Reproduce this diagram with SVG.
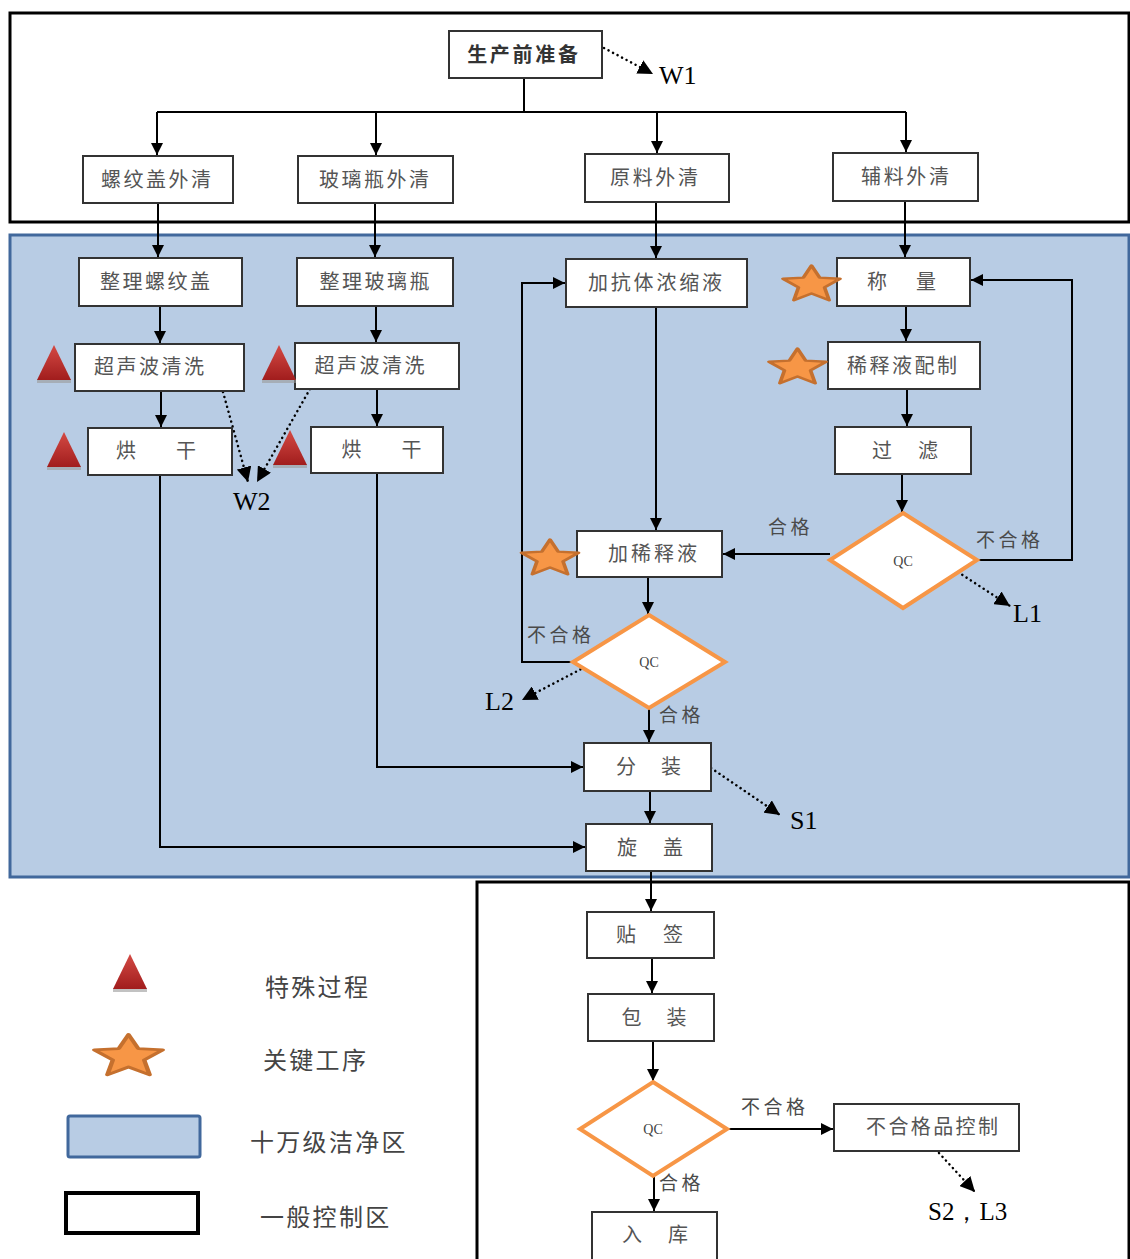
<svg xmlns="http://www.w3.org/2000/svg" width="1130" height="1259" viewBox="0 0 1130 1259">
<defs>
<style>
.box{fill:#fff;stroke:#333;stroke-width:2}
.t{font-family:"Noto Sans CJK SC","Liberation Serif",sans-serif;font-size:20px;fill:#555;text-anchor:middle}
.lb{font-family:"Noto Sans CJK SC","Liberation Serif",sans-serif;font-size:19px;fill:#4a4a4a;letter-spacing:3.5px}
.lg{font-family:"Noto Sans CJK SC","Liberation Serif",sans-serif;font-size:24px;fill:#444;letter-spacing:2.3px}
.ref{font-family:"Liberation Serif",serif;font-size:26px;fill:#000}
.qc{fill:#fff;stroke:#f79646;stroke-width:4;stroke-linejoin:miter}
.qct{font-family:"Liberation Serif",serif;font-size:14px;fill:#444;text-anchor:middle}
.ln{fill:none;stroke:#000;stroke-width:2}
.ar{fill:none;stroke:#000;stroke-width:2;marker-end:url(#ah)}
.dt{fill:none;stroke:#000;stroke-width:2.5;stroke-dasharray:0.1 5;stroke-linecap:round;marker-end:url(#dh)}
.star{fill:#f79646;stroke:#c5702e;stroke-width:3;stroke-linejoin:round}
.tri{fill:url(#rg)}
.trs{fill:#9a9a9a;opacity:0.6}
</style>
<marker id="ah" viewBox="0 0 10 10" refX="10" refY="5" markerWidth="12" markerHeight="12" markerUnits="userSpaceOnUse" orient="auto">
<path d="M0,0 L10,5 L0,10 z" fill="#000"/>
</marker>
<marker id="dh" viewBox="0 0 10 10" refX="10" refY="5" markerWidth="15" markerHeight="15" markerUnits="userSpaceOnUse" orient="auto">
<path d="M0,0 L10,5 L0,10 z" fill="#000"/>
</marker>
<linearGradient id="rg" x1="0" y1="0" x2="0" y2="1">
<stop offset="0" stop-color="#d44a44"/>
<stop offset="1" stop-color="#a11d1d"/>
</linearGradient>
<path id="st" d="M0,-24 L6.47,-8.9 L22.83,-7.42 L10.46,3.4 L14.11,19.42 L0,11 L-14.11,19.42 L-10.46,3.4 L-22.83,-7.42 L-6.47,-8.9 Z"/>
<g id="tr"><polygon class="trs" points="-17,38 17,38 17,34 -17,34"/><polygon class="tri" points="-17,35 17,35 0,0"/></g>
</defs>

<g id="zones">
<rect x="10" y="13" width="1119" height="209" fill="#fff" stroke="#000" stroke-width="3"/>
<rect x="10" y="235" width="1119" height="642" fill="#b8cce4" stroke="#41689c" stroke-width="3"/>
<rect x="477" y="882" width="652" height="390" fill="#fff" stroke="#000" stroke-width="3"/>
</g>

<g id="connectors">
<path class="ln" d="M524,78 V112 M157,112 H906"/>
<path class="ar" d="M157,112 V155"/>
<path class="ar" d="M376,112 V155"/>
<path class="ar" d="M657,112 V153"/>
<path class="ar" d="M906,112 V152"/>
<path class="ar" d="M158,203 V257"/>
<path class="ar" d="M375,203 V257"/>
<path class="ar" d="M656,202 V258"/>
<path class="ar" d="M905,201 V257"/>
<path class="ar" d="M160,306 V343"/>
<path class="ar" d="M376,306 V342"/>
<path class="ar" d="M161,391 V427"/>
<path class="ar" d="M377,389 V426"/>
<path class="ar" d="M160,475 V847 H585"/>
<path class="ar" d="M377,473 V767 H583"/>
<path class="ar" d="M656,307 V530"/>
<path class="ar" d="M906,306 V341"/>
<path class="ar" d="M907,389 V426"/>
<path class="ar" d="M902,474 V512"/>
<path class="ar" d="M830,554 H723"/>
<path class="ar" d="M977,560 H1072 V280 H971"/>
<path class="ar" d="M648,577 V614"/>
<path class="ar" d="M573,662 H522 V283 H565"/>
<path class="ar" d="M649,708 V742"/>
<path class="ar" d="M650,791 V823"/>
<path class="ar" d="M651,871 V911"/>
<path class="ar" d="M652,958 V993"/>
<path class="ar" d="M653,1041 V1081"/>
<path class="ar" d="M727,1129 H833"/>
<path class="ar" d="M654,1176 V1211"/>
<path class="dt" d="M604,48 L653,74"/>
<path class="dt" d="M223,392 L248,482"/>
<path class="dt" d="M310,389 L257,482"/>
<path class="dt" d="M958,572 L1010,606"/>
<path class="dt" d="M585,667 L522,700"/>
<path class="dt" d="M711,768 L780,815"/>
<path class="dt" d="M939,1153 L975,1192"/>
</g>

<g id="n-prep"><rect class="box" x="449" y="31" width="153" height="47"/><text class="t" x="524" y="61.5" style="font-weight:bold;fill:#333;letter-spacing:2.75px">生产前准备</text></g>
<g id="n-capout"><rect class="box" x="83" y="156" width="150" height="47"/><text class="t" x="157.25" y="186.5" style="letter-spacing:2.5px">螺纹盖外清</text></g>
<g id="n-bottleout"><rect class="box" x="298" y="156" width="155" height="47"/><text class="t" x="375.25" y="187" style="letter-spacing:2.5px">玻璃瓶外清</text></g>
<g id="n-rawout"><rect class="box" x="585" y="154" width="144" height="48"/><text class="t" x="655.35" y="185" style="letter-spacing:2.7px">原料外清</text></g>
<g id="n-auxout"><rect class="box" x="833" y="153" width="145" height="48"/><text class="t" x="906.35" y="184" style="letter-spacing:2.7px">辅料外清</text></g>

<g id="n-capsort"><rect class="box" x="79" y="258" width="163" height="48"/><text class="t" x="156.25" y="289" style="letter-spacing:2.5px">整理螺纹盖</text></g>
<g id="n-bottlesort"><rect class="box" x="297" y="258" width="156" height="48"/><text class="t" x="375.75" y="289" style="letter-spacing:2.5px">整理玻璃瓶</text></g>
<g id="n-us1"><rect class="box" x="75" y="344" width="169" height="47"/><text class="t" x="150.25" y="374" style="letter-spacing:2.5px">超声波清洗</text></g>
<g id="n-us2"><rect class="box" x="295" y="343" width="164" height="46"/><text class="t" x="370.75" y="373" style="letter-spacing:2.5px">超声波清洗</text></g>
<g id="n-dry1"><rect class="box" x="88" y="428" width="144" height="47"/><text class="t" x="156" y="458">烘　　干</text></g>
<g id="n-dry2"><rect class="box" x="311" y="427" width="132" height="46"/><text class="t" x="381.5" y="457">烘　　干</text></g>
<g id="n-antibody"><rect class="box" x="566" y="259" width="181" height="48"/><text class="t" x="656.4" y="289.5" style="letter-spacing:2.8px">加抗体浓缩液</text></g>
<g id="n-weigh"><rect class="box" x="837" y="258" width="133" height="48"/><text class="t" x="903.75" y="289" style="letter-spacing:4.5px">称　量</text></g>
<g id="n-diluent"><rect class="box" x="828" y="342" width="152" height="47"/><text class="t" x="903.25" y="372.5" style="letter-spacing:2.5px">稀释液配制</text></g>
<g id="n-filter"><rect class="box" x="835" y="427" width="136" height="47"/><text class="t" x="906.5" y="457.5" style="letter-spacing:3px">过　滤</text></g>
<g id="n-qc1"><polygon class="qc" points="903,513 977,560 903,608 830,560"/><text class="qct" x="903" y="566">QC</text></g>
<g id="n-adddil"><rect class="box" x="577" y="531" width="145" height="46"/><text class="t" x="654" y="561" style="letter-spacing:3px">加稀释液</text></g>
<g id="n-qc2"><polygon class="qc" points="649,615 725,662 649,708 573,662"/><text class="qct" x="649" y="667">QC</text></g>
<g id="n-fill"><rect class="box" x="584" y="743" width="127" height="48"/><text class="t" x="649.75" y="774" style="letter-spacing:2.5px">分　装</text></g>
<g id="n-cap"><rect class="box" x="586" y="824" width="126" height="47"/><text class="t" x="651.5" y="854.5" style="letter-spacing:3px">旋　盖</text></g>
<g id="n-label"><rect class="box" x="587" y="912" width="127" height="46"/><text class="t" x="651.25" y="942" style="letter-spacing:3.5px">贴　签</text></g>
<g id="n-pack"><rect class="box" x="588" y="994" width="126" height="47"/><text class="t" x="655.25" y="1024.5" style="letter-spacing:2.5px">包　装</text></g>
<g id="n-qc3"><polygon class="qc" points="653,1082 727,1129 653,1176 580,1129"/><text class="qct" x="653" y="1134">QC</text></g>
<g id="n-reject"><rect class="box" x="834" y="1104" width="185" height="47"/><text class="t" x="933.2" y="1134" style="letter-spacing:2.4px">不合格品控制</text></g>
<g id="n-store"><rect class="box" x="592" y="1212" width="125" height="50"/><text class="t" x="656.5" y="1242" style="letter-spacing:3px">入　库</text></g>

<g id="labels">
<text class="lb" x="768" y="534">合格</text>
<text class="lb" x="976" y="547">不合格</text>
<text class="lb" x="527" y="642">不合格</text>
<text class="lb" x="659" y="722">合格</text>
<text class="lb" x="741" y="1114">不合格</text>
<text class="lb" x="659" y="1190">合格</text>
<text class="ref" x="659" y="84">W1</text>
<text class="ref" x="233" y="510">W2</text>
<text class="ref" x="1013" y="622">L1</text>
<text class="ref" x="485" y="710">L2</text>
<text class="ref" x="790" y="829">S1</text>
<text class="ref" x="928" y="1220" style="font-size:25px">S2，L3</text>
</g>

<g id="marks">
<use href="#tr" x="54" y="345"/>
<use href="#tr" x="64" y="432"/>
<use href="#tr" x="279" y="345"/>
<use href="#tr" x="290" y="430"/>
<use href="#st" class="star" transform="translate(811.5,284.7) scale(1.25,0.8)"/>
<use href="#st" class="star" transform="translate(797.5,367.7) scale(1.25,0.8)"/>
<use href="#st" class="star" transform="translate(550,558.7) scale(1.25,0.8)"/>
</g>

<g id="legend">
<use href="#tr" x="130" y="954"/>
<use href="#st" class="star" transform="translate(128.5,1056.8) scale(1.5,0.93)"/>
<rect x="68" y="1116" width="132" height="41" rx="2" fill="#b8cce4" stroke="#41689c" stroke-width="3"/>
<rect x="66" y="1193" width="132" height="40" fill="#fff" stroke="#000" stroke-width="4"/>
<text class="lg" x="265" y="996">特殊过程</text>
<text class="lg" x="263" y="1069">关键工序</text>
<text class="lg" x="250" y="1151">十万级洁净区</text>
<text class="lg" x="260" y="1226">一般控制区</text>
</g>
</svg>
